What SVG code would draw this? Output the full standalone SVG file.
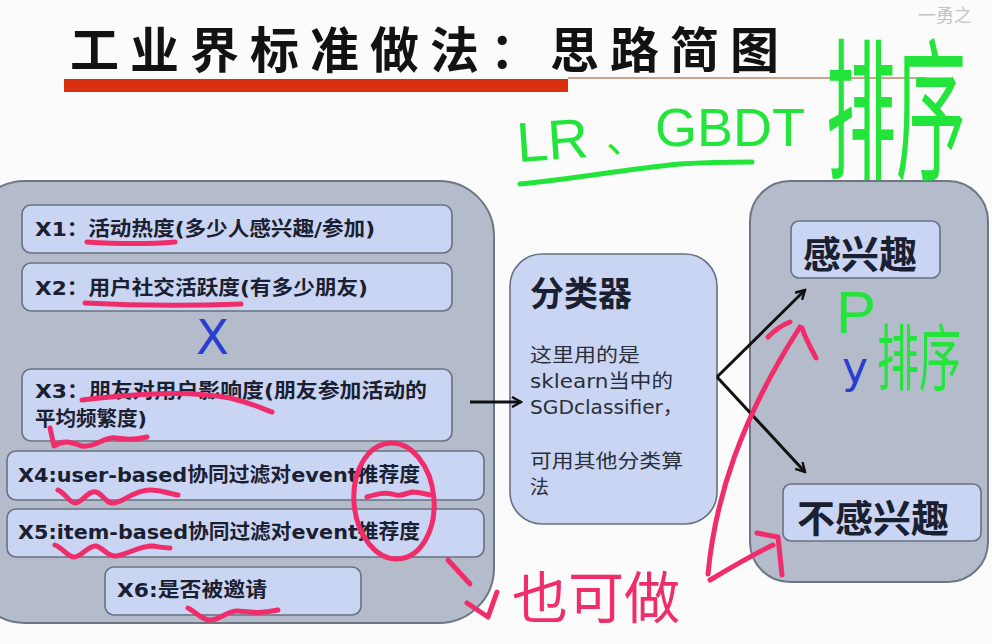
<svg xmlns="http://www.w3.org/2000/svg" width="992" height="644" viewBox="0 0 992 644">
<defs>
<marker id="ah" viewBox="0 0 12 12" refX="10" refY="6" markerWidth="12" markerHeight="12" markerUnits="userSpaceOnUse" orient="auto">
<path d="M1,1 L10,6 L1,11" fill="none" stroke="#111" stroke-width="2.4"/>
</marker>
<style>
.cont{fill:#b4bccb;stroke:#6e7684;stroke-width:2}
.box{fill:#c9d5f3;stroke:#68717f;stroke-width:1.6}
.t{font-family:"DejaVu Sans","Noto Sans CJK SC",sans-serif;font-weight:bold;fill:#1b2030}
.c{font-family:"DejaVu Sans","Noto Sans CJK SC",sans-serif;fill:#2b2f3a}
.big{font-family:"Noto Sans CJK SC",sans-serif;font-weight:bold;fill:#1b2030}
.conn{stroke:#111;stroke-width:3;fill:none}
.pk{stroke:#f02d6b;stroke-width:5;fill:none;stroke-linecap:round;stroke-linejoin:round}
.gr{stroke:#22e43a;stroke-width:5;fill:none;stroke-linecap:round;stroke-linejoin:round}
.hg{font-family:"Liberation Sans","Noto Sans CJK SC",sans-serif;fill:#22e43a}
.hp{font-family:"Noto Sans CJK SC",sans-serif;fill:#f02d6b}
</style>
</defs>
<rect width="992" height="644" fill="#fbfbfb"/>
<text x="918" y="22" font-family="Noto Sans CJK SC,sans-serif" font-size="18" fill="#c4c4c4">一勇之</text>
<g id="title">
<text x="70" y="68" font-family="Noto Sans CJK SC,sans-serif" font-weight="bold" font-size="49" fill="#121212" letter-spacing="11">工业界标准做法：思路简图</text>
<line x1="568" y1="78" x2="926" y2="78" stroke="#c9a58e" stroke-width="2"/>
<rect x="64" y="79" width="504" height="13" fill="#d9300f"/>
</g>
<g id="features">
<rect class="cont" x="-30" y="181" width="524" height="442" rx="55"/>
<g id="x1"><rect class="box" x="22" y="205" width="430" height="48" rx="9"/>
<text class="t" x="35" y="236" font-size="20" textLength="340" lengthAdjust="spacingAndGlyphs">X1：活动热度(多少人感兴趣/参加)</text></g>
<g id="x2"><rect class="box" x="22" y="263" width="430" height="48" rx="9"/>
<text class="t" x="35" y="295" font-size="20" textLength="333" lengthAdjust="spacingAndGlyphs">X2：用户社交活跃度(有多少朋友)</text></g>
<text x="196" y="354" font-family="DejaVu Sans,sans-serif" font-size="48" fill="#2a3fd0">X</text>
<g id="x3"><rect class="box" x="22" y="369" width="430" height="72" rx="9"/>
<text class="t" x="35" y="398" font-size="20" textLength="392" lengthAdjust="spacingAndGlyphs">X3：朋友对用户影响度(朋友参加活动的</text>
<text class="t" x="35" y="426" font-size="20" textLength="112" lengthAdjust="spacingAndGlyphs">平均频繁度)</text></g>
<g id="x4"><rect class="box" x="7" y="451" width="477" height="49" rx="9"/>
<text class="t" x="18" y="482" font-size="20" textLength="402" lengthAdjust="spacingAndGlyphs">X4:user-based协同过滤对event推荐度</text></g>
<g id="x5"><rect class="box" x="7" y="509" width="477" height="48" rx="9"/>
<text class="t" x="18" y="539" font-size="20" textLength="402" lengthAdjust="spacingAndGlyphs">X5:item-based协同过滤对event推荐度</text></g>
<g id="x6"><rect class="box" x="105" y="567" width="256" height="48" rx="9"/>
<text class="t" x="117" y="597" font-size="20" textLength="150" lengthAdjust="spacingAndGlyphs">X6:是否被邀请</text></g>
</g>
<g id="classifier">
<rect class="box" x="510" y="254" width="207" height="270" rx="32" fill="#c6d4f3"/>
<text class="big" x="530" y="306" font-size="34">分类器</text>
<text class="c" x="530" y="362" font-size="19" textLength="110" lengthAdjust="spacingAndGlyphs">这里用的是</text>
<text class="c" x="530" y="388" font-size="19" textLength="143" lengthAdjust="spacingAndGlyphs">sklearn当中的</text>
<text class="c" x="530" y="414" font-size="19" textLength="153" lengthAdjust="spacingAndGlyphs">SGDclassifier，</text>
<text class="c" x="530" y="468" font-size="19" textLength="153" lengthAdjust="spacingAndGlyphs">可用其他分类算</text>
<text class="c" x="530" y="494" font-size="19">法</text>
</g>
<g id="output">
<rect class="cont" x="750" y="181" width="238" height="401" rx="40"/>
<g id="interested"><rect class="box" x="791" y="221" width="149" height="57" rx="8"/>
<text class="big" x="803" y="268" font-size="38">感兴趣</text></g>
<g id="notinterested"><rect class="box" x="783" y="484" width="198" height="57" rx="8"/>
<text class="big" x="797" y="532" font-size="38">不感兴趣</text></g>
<text x="842" y="383" font-family="DejaVu Sans,sans-serif" font-size="44" fill="#2a3fd0">y</text>
</g>
<g id="connectors">
<line class="conn" x1="470" y1="402" x2="521" y2="402" marker-end="url(#ah)"/>
<line class="conn" x1="717" y1="377" x2="805" y2="290" marker-end="url(#ah)"/>
<line class="conn" x1="717" y1="377" x2="805" y2="472" marker-end="url(#ah)"/>
</g>
<g id="annotations">
<text class="hg" x="518" y="162" font-size="56" transform="rotate(-4 518 162)">LR</text>
<text class="hg" x="606" y="152" font-size="40">、</text>
<text class="hg" x="655" y="146" font-size="54">GBDT</text>
<path class="gr" d="M520,184 C580,178 620,170 680,164 C710,162 735,162 752,162"/>
<text class="hg" transform="translate(826,168) scale(1,2.2)" font-size="70">排序</text>
<text class="hg" x="836" y="333" font-size="60">P</text>
<text class="hg" transform="translate(877,384) scale(1,1.7)" font-size="42">排序</text>
<path class="pk" d="M87,242 C120,244 150,244 175,242"/>
<path class="pk" d="M85,303 C140,306 190,306 241,304"/>
<path class="pk" d="M82,400 C130,394 190,390 230,398 C255,404 265,410 272,412"/>
<path class="pk" d="M50,428 L54,446 C66,438 74,444 82,446 C95,448 105,436 116,438 C128,440 136,440 147,437"/>
<path class="pk" d="M58,490 C66,494 70,503 75,503 C82,503 88,490 96,492 C103,494 106,504 114,503 C124,502 134,490 150,490 C162,490 170,494 178,495"/>
<path class="pk" d="M367,497 C377,494 384,492 392,494 C400,497 404,494 412,492 C420,492 425,494 430,495"/>
<path class="pk" d="M55,545 C63,548 68,557 74,557 C82,557 88,545 96,546 C104,548 108,557 116,556 C128,554 140,546 152,546 C160,547 165,548 170,548"/>
<path class="pk" d="M188,608 C196,612 202,620 210,620 C220,620 228,610 238,611 C250,612 258,614 278,610"/>
<ellipse class="pk" cx="394" cy="501" rx="40" ry="58" transform="rotate(-5 394 501)"/>
<path class="pk" d="M448,560 L470,584"/>
<path class="pk" d="M467,603 L488,617 L497,592"/>
<text class="hp" x="512" y="618" font-size="56">也可做</text>
<path class="pk" d="M708,574 C715,500 740,420 800,327"/>
<path class="pk" d="M768,337 C775,330 782,325 790,322"/>
<path class="pk" d="M802,328 C806,340 812,350 816,358"/>
<path class="pk" d="M710,580 C730,568 752,555 773,545"/>
<path class="pk" d="M757,533 L778,537 L782,575"/>
</g>
</svg>
